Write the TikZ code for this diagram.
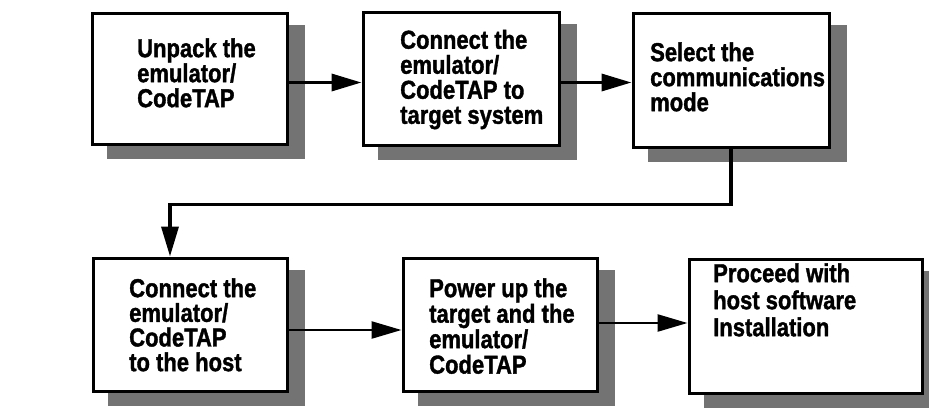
\documentclass[tikz,border=0pt]{standalone}
\usepackage{fontspec}
\setmainfont{Liberation Sans}[BoldFeatures={FakeBold=1.5}]
\usetikzlibrary{arrows.meta,backgrounds}
\tikzset{
  box/.style={draw=black, line width=3pt, fill=white, inner sep=0pt},
  txt/.style={font=\bfseries\fontsize{22}{#1}\selectfont, align=left, anchor=north west, inner sep=0pt, yscale=1.18, transform shape},
  txt/.default=21.2,
  conn/.style={line width=3.5pt, -{Triangle[length=30pt,width=17pt]}},
  connthin/.style={line width=2.5pt, -{Triangle[length=30pt,width=17pt]}},
  shadowfill/.style={fill=black!55}
}
\begin{document}
\begin{tikzpicture}[x=1pt,y=-1pt]
\useasboundingbox (0,0) rectangle (929,416);
% boxes
\node[box, minimum width=195pt, minimum height=131pt] (b1) at (189.5,78.5) {};
\node[box, minimum width=196pt, minimum height=133pt] (b2) at (461,78.5) {};
\node[box, minimum width=196pt, minimum height=134pt] (b3) at (731,80) {};
\node[box, minimum width=194pt, minimum height=133pt] (b4) at (190,324.5) {};
\node[box, minimum width=194pt, minimum height=133pt] (b5) at (500,324.5) {};
\node[box, minimum width=233pt, minimum height=134pt] (b6) at (805.5,326) {};
% shadows
\begin{scope}[on background layer]
\foreach \b in {b1,b2,b3,b4,b5,b6}{
  \fill[shadowfill] ([xshift=16pt,yshift=-13pt]\b.south west) rectangle ([xshift=16pt,yshift=-13pt]\b.north east);
}
\end{scope}
% texts
\node[txt=21.2] (t1) at (137,38.1) {Unpack the\\emulator/\\CodeTAP};
\node[txt=21.2] (t2) at (400,29.7) {Connect the\\emulator/\\CodeTAP to\\target system};
\node[txt=21.2] (t3) at (650,42.1) {Select the\\communications\\mode};
\node[txt=20.9] (t4) at (129,278.1) {Connect the\\emulator/\\CodeTAP\\to the host};
\node[txt=21.6] (t5) at (429,278.1) {Power up the\\target and the\\emulator/\\CodeTAP};
\node[txt=22.9] (t6) at (713,263.1) {Proceed with\\host software\\Installation};
% connectors
\draw[conn] ([yshift=-4pt]b1.east) -- ([yshift=-4pt]b2.west);
\draw[conn] ([yshift=-4pt]b2.east) -- ([yshift=-4pt]b2.east -| b3.west);
\draw[conn] (b3.south) -- ++(0,56) -| ([xshift=-20pt]b4.north);
\draw[connthin] ([yshift=-5.5pt]b4.east) -- ([yshift=-5.5pt]b4.east -| b5.west);
\draw[connthin] ([yshift=1.5pt]b5.east) -- ([yshift=1.5pt]b5.east -| b6.west);
\end{tikzpicture}
\end{document}
